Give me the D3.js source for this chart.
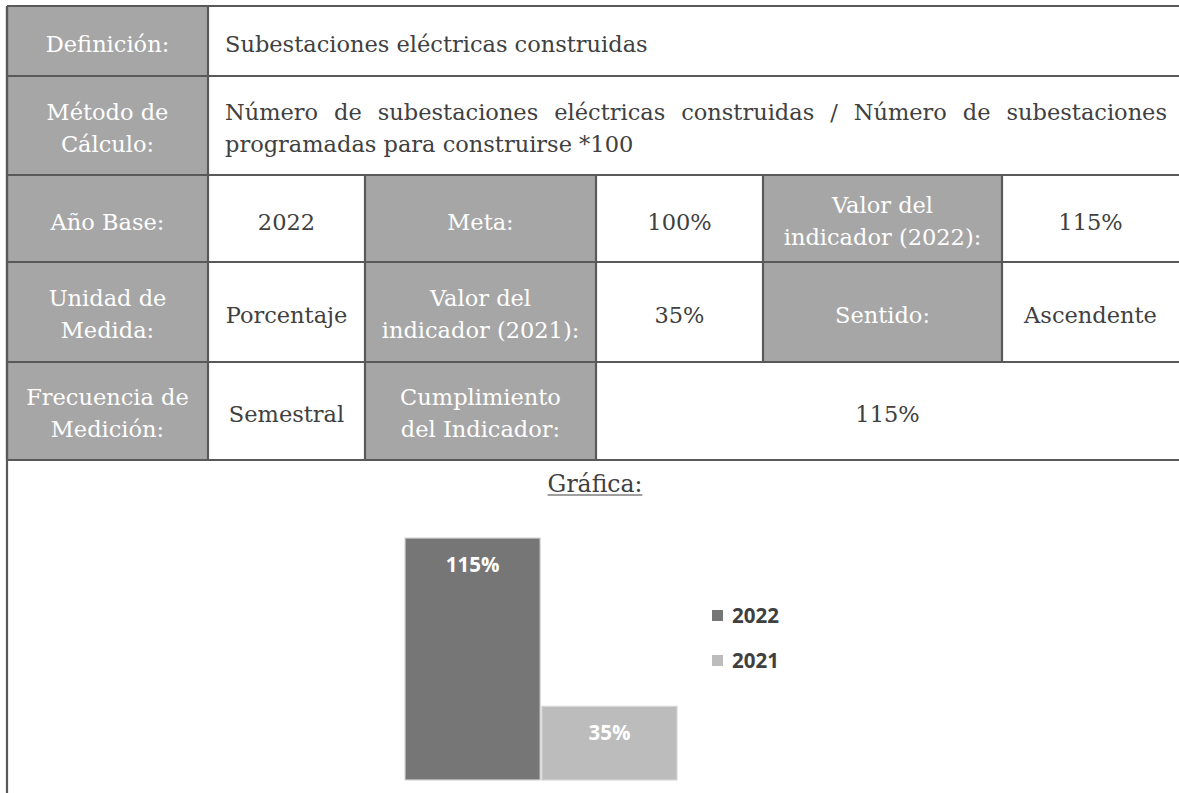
<!DOCTYPE html>
<html>
<head>
<meta charset="utf-8">
<script src="https://cdn.jsdelivr.net/npm/d3@7"></script>
<style>
  html, body { margin: 0; padding: 0; background: #fff; }
  svg { display: block; }
</style>
</head>
<body>
<div id="chart"></div>
<script>
(function() {

  // table content, one list per row: [lines, isHeader, span]
  const rowDefinicion = [[['Definición:'], true, 1], [['Subestaciones eléctricas construidas'], false, 6, 'left']];
  const rowMetodo = [[['Método de', 'Cálculo:'], true, 1], [['Número de subestaciones eléctricas construidas / Número de subestaciones', 'programadas para construirse *100'], false, 6, 'justify']];
  const rowAnio = [
    [['Año Base:'], true, 1], [['2022'], false, 1], [['Meta:'], true, 1],
    [['100%'], false, 1], [['Valor del', 'indicador (2022):'], true, 1], [['115%'], false, 1]
  ];
  const rowUnidad = [
    [['Unidad de', 'Medida:'], true, 1], [['Porcentaje'], false, 1], [['Valor del', 'indicador (2021):'], true, 1],
    [['35%'], false, 1], [['Sentido:'], true, 1], [['Ascendente'], false, 1]
  ];
  const rowFrecuencia = [
    [['Frecuencia de', 'Medición:'], true, 1], [['Semestral'], false, 1],
    [['Cumplimiento', 'del Indicador:'], true, 1], [['115%'], false, 3]
  ];
  const tableRows = [rowDefinicion, rowMetodo, rowAnio, rowUnidad, rowFrecuencia];

  // chart data
  const years = ['2022', '2021'];
  const values = [115, 35];
  const valueLabels = ['115%', '35%'];
  const chartTitle = 'Gráfica:';

  // layout
  const width = 1179, height = 793;
  const colEdges = [7, 208, 365, 596, 763, 1002, 1179];
  const rowEdges = [6, 76, 175, 262, 362, 460];
  const headFill = '#a6a6a6', lineColor = '#595959', inkColor = '#404040';
  const serif = 'DejaVu Serif';
  const fontSize = 22.5;
  const lineGap = 32;
  const colors = ['#767676', '#bcbcbc'];

  const svg = d3.select('#chart')
    .append('svg')
    .attr('width', width)
    .attr('height', height);

  const table = svg.append('g');
  const grid = svg.append('g');

  // build cells
  let cells = [];
  tableRows.forEach((row, r) => {
    let c = 0;
    row.forEach(cell => {
      cells.push({
        lines: cell[0], head: cell[1], align: cell[3] || 'center',
        x0: colEdges[c], x1: colEdges[c + cell[2]],
        y0: rowEdges[r], y1: rowEdges[r + 1]
      });
      c += cell[2];
    });
  });

  table.selectAll('rect.cell')
    .data(cells)
    .enter()
    .append('rect')
    .attr('class', 'cell')
    .attr('x', d => d.x0)
    .attr('y', d => d.y0)
    .attr('width', d => d.x1 - d.x0)
    .attr('height', d => d.y1 - d.y0)
    .attr('fill', d => d.head ? headFill : '#fff');

  cells.forEach(d => {
    let n = d.lines.length;
    let cy = (d.y0 + d.y1) / 2 + (n > 1 ? 10 : 11);
    d.lines.forEach((line, i) => {
      let y = cy + (i - (n - 1) / 2) * lineGap;
      if (d.align === 'justify' && i === 0) {
        justify(line, d.x0 + 17, width - 12, y);
        return;
      }
      let left = d.align !== 'center';
      table.append('text')
        .attr('x', left ? d.x0 + 17 : (d.x0 + d.x1) / 2)
        .attr('y', y)
        .attr('text-anchor', left ? 'start' : 'middle')
        .attr('font-family', serif)
        .attr('font-size', fontSize)
        .attr('fill', d.head ? '#fff' : inkColor)
        .text(line);
    });
  });

  function justify(line, xStart, xEnd, y) {
    let words = line.split(' ');
    let nodes = words.map(w => table.append('text')
      .attr('y', y)
      .attr('font-family', serif)
      .attr('font-size', fontSize)
      .attr('fill', inkColor)
      .text(w));
    let widths = nodes.map(n => n.node().getComputedTextLength());
    let gap = (xEnd - xStart - d3.sum(widths)) / (words.length - 1);
    let x = xStart;
    nodes.forEach((n, i) => {
      n.attr('x', x);
      x += widths[i] + gap;
    });
  }

  // grid lines
  rowEdges.forEach(y => {
    grid.append('line')
      .attr('x1', colEdges[0]).attr('x2', width)
      .attr('y1', y).attr('y2', y);
  });
  cells.forEach(d => {
    grid.append('line')
      .attr('x1', d.x0).attr('x2', d.x0)
      .attr('y1', d.y0).attr('y2', d.y1);
  });
  grid.append('line')
    .attr('x1', colEdges[0]).attr('x2', colEdges[0])
    .attr('y1', rowEdges[0]).attr('y2', height);
  grid.selectAll('line')
    .attr('stroke', lineColor)
    .attr('stroke-width', 2.2);

  // chart title
  let title = svg.append('text')
    .attr('x', (colEdges[0] + width) / 2 + 2)
    .attr('y', 492)
    .attr('text-anchor', 'middle')
    .attr('font-family', serif)
    .attr('font-size', 23.5)
    .attr('fill', inkColor)
    .text(chartTitle);
  let tb = title.node().getBBox();
  svg.append('line')
    .attr('x1', tb.x).attr('x2', tb.x + tb.width)
    .attr('y1', 495).attr('y2', 495)
    .attr('stroke', inkColor)
    .attr('stroke-width', 1.2);

  // bars
  const x = d3.scaleBand().domain(years).range([405, 677]).paddingInner(0.012);
  const y = d3.scaleLinear().domain([0, 115]).range([780, 538]);
  const color = d3.scaleOrdinal().domain(years).range(colors);
  const bars = years.map((k, i) => ({ year: k, value: values[i], label: valueLabels[i] }));

  const chart = svg.append('g');
  chart.selectAll('rect.bar')
    .data(bars)
    .enter()
    .append('rect')
    .attr('class', 'bar')
    .attr('x', d => x(d.year))
    .attr('y', d => y(d.value))
    .attr('width', x.bandwidth())
    .attr('height', d => y(0) - y(d.value))
    .attr('fill', d => color(d.year))
    .attr('stroke', '#d6d6d6')
    .attr('stroke-width', 1.2);

  chart.selectAll('text.val')
    .data(bars)
    .enter()
    .append('text')
    .attr('class', 'val')
    .attr('x', d => x(d.year) + x.bandwidth() / 2)
    .attr('y', d => y(d.value) + 34)
    .attr('text-anchor', 'middle')
    .attr('font-family', 'Open Sans')
    .attr('font-weight', 700)
    .attr('font-size', 20.5)
    .attr('fill', '#fff')
    .text(d => d.label);

  // legend
  const legend = svg.append('g')
    .selectAll('g')
    .data(years)
    .enter()
    .append('g')
    .attr('transform', (d, i) => `translate(712,${610 + i * 45})`);
  legend.append('rect')
    .attr('width', 11)
    .attr('height', 11)
    .attr('fill', d => color(d));
  legend.append('text')
    .attr('x', 20)
    .attr('y', 13)
    .attr('font-family', 'Open Sans')
    .attr('font-weight', 700)
    .attr('font-size', 20.5)
    .attr('fill', inkColor)
    .text(d => d);

})();
</script>
</body>
</html>
